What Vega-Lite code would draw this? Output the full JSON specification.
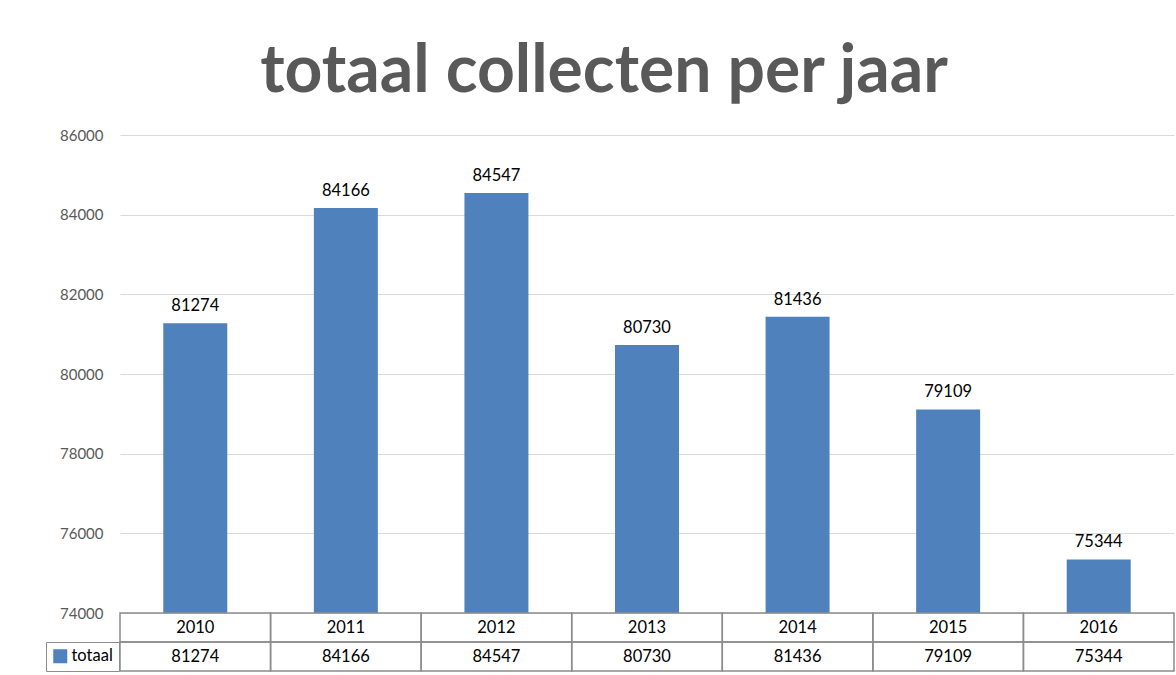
{
  "$schema": "https://vega.github.io/schema/vega-lite/v6.json",
  "autosize": "none",
  "width": 1054,
  "height": 536,
  "padding": {"left": 120, "top": 135, "right": 2, "bottom": 4},
  "background": "white",
  "config": {
    "font": "Lato",
    "view": {"stroke": null}
  },
  "title": {
    "text": "totaal collecten per jaar",
    "font": "Lato",
    "fontSize": 66,
    "fontWeight": "bold",
    "color": "#595959",
    "anchor": "middle",
    "frame": "group",
    "dx": -43,
    "offset": 22
  },
  "data": {
    "values": [
      {"jaar": "2010", "totaal": 81274, "reeks": "totaal"},
      {"jaar": "2011", "totaal": 84166, "reeks": "totaal"},
      {"jaar": "2012", "totaal": 84547, "reeks": "totaal"},
      {"jaar": "2013", "totaal": 80730, "reeks": "totaal"},
      {"jaar": "2014", "totaal": 81436, "reeks": "totaal"},
      {"jaar": "2015", "totaal": 79109, "reeks": "totaal"},
      {"jaar": "2016", "totaal": 75344, "reeks": "totaal"}
    ]
  },
  "encoding": {
    "x": {
      "field": "jaar",
      "type": "nominal",
      "sort": null,
      "axis": null,
      "scale": {"paddingInner": 0, "paddingOuter": 0}
    }
  },
  "resolve": {"scale": {"y": "independent"}},
  "layer": [
    {
      "encoding": {
        "y": {
          "field": "totaal",
          "type": "quantitative",
          "scale": {"domain": [74000, 86000], "range": [478, 0], "zero": false, "nice": false},
          "axis": {
            "title": null,
            "values": [74000, 76000, 78000, 80000, 82000, 84000, 86000],
            "format": "d",
            "domain": false,
            "ticks": false,
            "labelPadding": 17,
            "labelFont": "Lato",
            "labelFontSize": 15,
            "labelColor": "#595959",
            "gridColor": "#d9d9d9",
            "gridWidth": 1
          }
        }
      },
      "layer": [
        {
          "mark": {"type": "bar", "width": {"band": 0.425}},
          "encoding": {
            "y2": {"datum": 74000},
            "color": {
              "field": "reeks",
              "type": "nominal",
              "scale": {"range": ["#4F81BD"]},
              "legend": {
                "orient": "none",
                "legendX": -74,
                "legendY": 507,
                "title": null,
                "strokeColor": "#8c8c8c",
                "padding": 6,
                "symbolType": "square",
                "symbolSize": 196,
                "symbolStrokeWidth": 0,
                "labelOffset": 3,
                "labelFont": "Lato",
                "labelFontSize": 16.5,
                "labelColor": "#000000"
              }
            }
          }
        },
        {
          "mark": {"type": "text", "baseline": "alphabetic", "dy": -12, "fontSize": 16.5, "font": "Lato", "color": "#000000"},
          "encoding": {
            "text": {"field": "totaal", "type": "quantitative", "format": "d"}
          }
        }
      ]
    },
    {
      "encoding": {
        "y": {
          "datum": "jaar",
          "type": "nominal",
          "scale": {"domain": ["jaar", "totaal"], "range": [478, 536], "paddingInner": 0, "paddingOuter": 0},
          "axis": null
        }
      },
      "layer": [
        {
          "mark": {"type": "rect", "fillOpacity": 0, "stroke": "#8c8c8c", "strokeWidth": 1.5}
        },
        {
          "mark": {"type": "rect", "fillOpacity": 0, "stroke": "#8c8c8c", "strokeWidth": 1.5},
          "encoding": {"y": {"datum": "totaal", "type": "nominal"}}
        },
        {
          "mark": {"type": "text", "baseline": "middle", "fontSize": 16.5, "font": "Lato", "color": "#000000"},
          "encoding": {"text": {"field": "jaar", "type": "nominal"}}
        },
        {
          "mark": {"type": "text", "baseline": "middle", "fontSize": 16.5, "font": "Lato", "color": "#000000"},
          "encoding": {
            "y": {"datum": "totaal", "type": "nominal"},
            "text": {"field": "totaal", "type": "quantitative", "format": "d"}
          }
        }
      ]
    }
  ]
}
